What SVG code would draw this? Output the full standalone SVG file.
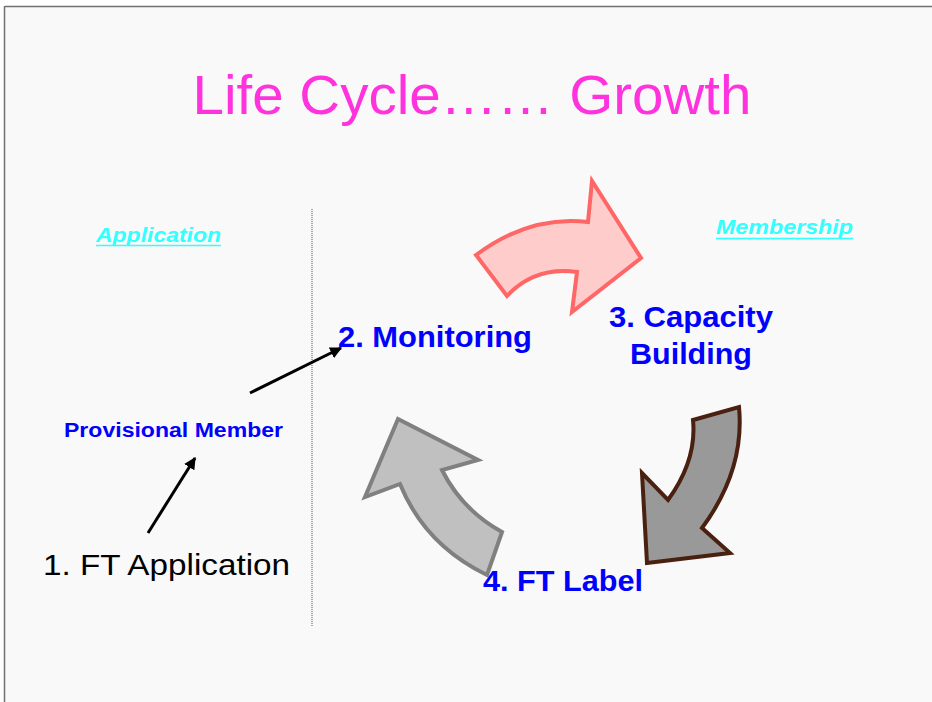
<svg xmlns="http://www.w3.org/2000/svg" width="932" height="702" viewBox="0 0 932 702">
  <style>
    .t { font-family: "Liberation Sans", Arial, sans-serif; }
    .blue { fill: #0000ff; font-weight: bold; }
    .cyan { fill: #33ffff; font-weight: bold; font-style: italic; }
    .conn { stroke: #000; stroke-width: 3; fill: none; marker-end: url(#ah); }
  </style>
  <defs>
    <marker id="ah" viewBox="0 0 10 10" refX="9" refY="5" markerWidth="4" markerHeight="4" orient="auto" markerUnits="strokeWidth">
      <path d="M0,0 L10,5 L0,10 Z" fill="#000"/>
    </marker>
  </defs>
  <rect x="0" y="0" width="932" height="702" fill="#ffffff"/>
  <rect x="5" y="7" width="927" height="695" fill="#f9f9f9"/>
  <line x1="5" y1="6.5" x2="932" y2="6.5" stroke="#707070" stroke-width="1.5"/>
  <line x1="4.5" y1="6" x2="4.5" y2="702" stroke="#707070" stroke-width="1.5"/>

  <text id="title" class="t" x="472" y="114" font-size="56" fill="#ff33dd" text-anchor="middle" textLength="559" lengthAdjust="spacingAndGlyphs">Life Cycle…… Growth</text>

  <line id="divider" x1="312" y1="209" x2="312" y2="626" stroke="#8a8a8a" stroke-width="1.5" stroke-dasharray="1,1"/>

  <g id="label-application">
    <text class="t cyan" x="96" y="242" font-size="20" textLength="125" lengthAdjust="spacingAndGlyphs">Application</text>
    <line x1="96" y1="245.5" x2="221" y2="245.5" stroke="#33ffff" stroke-width="1.5"/>
  </g>
  <g id="label-membership">
    <text class="t cyan" x="716" y="234" font-size="20" textLength="137" lengthAdjust="spacingAndGlyphs">Membership</text>
    <line x1="716" y1="238.5" x2="853" y2="238.5" stroke="#33ffff" stroke-width="1.5"/>
  </g>

  <g id="arrow-pink">
    <path d="M476,255 Q530,215 588,222 L592,181 L641,258 L572,312 L577,272 Q535,266 507,296 Z" fill="#ffcccc" stroke="#ff6666" stroke-width="4" stroke-linejoin="miter"/>
  </g>
  <g id="arrow-dark">
    <path d="M693,420 L739,407 Q745,470 702,528 L730,553 L647,563 L642,473 L668,500 Q697,460 693,420 Z" fill="#999999" stroke="#4a2010" stroke-width="4"/>
  </g>
  <g id="arrow-grey">
    <path d="M502,532 L487,575 Q425,545 400,484 L365,497 L398,419 L478,460 L442,470 Q462,510 502,532 Z" fill="#c0c0c0" stroke="#808080" stroke-width="4"/>
  </g>

  <g id="node-1">
    <text class="t" x="43" y="575" font-size="30" fill="#000" textLength="247" lengthAdjust="spacingAndGlyphs">1. FT Application</text>
  </g>
  <g id="node-provisional">
    <text class="t blue" x="64" y="437" font-size="20" textLength="219" lengthAdjust="spacingAndGlyphs">Provisional Member</text>
  </g>
  <g id="node-2">
    <text class="t blue" x="338" y="347" font-size="30" textLength="194" lengthAdjust="spacingAndGlyphs">2. Monitoring</text>
  </g>
  <g id="node-3">
    <text class="t blue" x="609" y="327" font-size="30" textLength="164" lengthAdjust="spacingAndGlyphs">3. Capacity</text>
    <text class="t blue" x="630" y="364" font-size="30" textLength="122" lengthAdjust="spacingAndGlyphs">Building</text>
  </g>
  <g id="node-4">
    <text class="t blue" x="483" y="591" font-size="30" textLength="160" lengthAdjust="spacingAndGlyphs">4. FT Label</text>
  </g>

  <g id="connectors">
    <line class="conn" x1="148" y1="533" x2="195" y2="458"/>
    <line class="conn" x1="250" y1="393" x2="341" y2="348"/>
  </g>
</svg>
